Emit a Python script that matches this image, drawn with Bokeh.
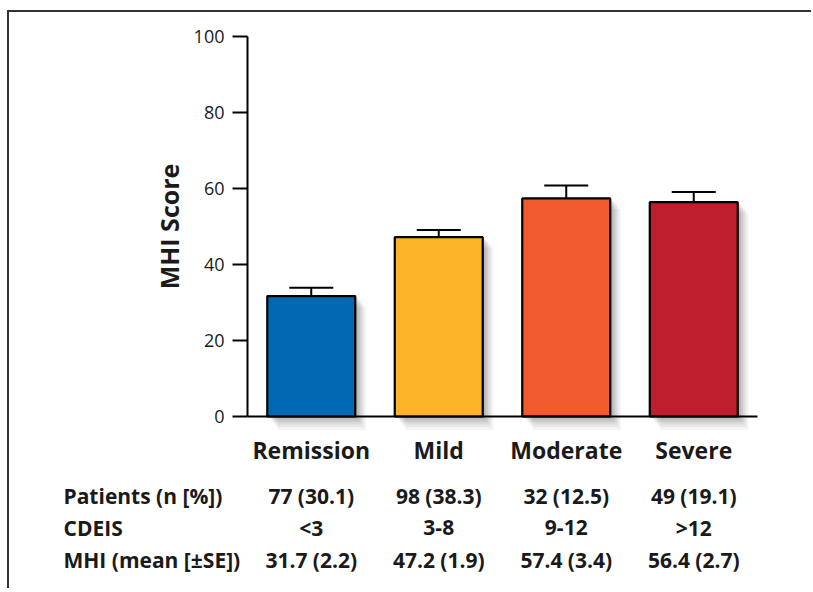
from bokeh.plotting import figure
from bokeh.models import (ColumnDataSource, FixedTicker, Range1d, Whisker, TeeHead)
from bokeh.transform import dodge
from bokeh.core.properties import value
from bokeh.embed import file_html
from bokeh.resources import INLINE

# ---- data ----
categories = ["Remission", "Mild", "Moderate", "Severe"]
mhi_mean = [31.7, 47.2, 57.4, 56.4]
mhi_se = [2.2, 1.9, 3.4, 2.7]
patients = ["77 (30.1)", "98 (38.3)", "32 (12.5)", "49 (19.1)"]
cdeis = ["<3", "3-8", "9-12", ">12"]
mhi_table = ["31.7 (2.2)", "47.2 (1.9)", "57.4 (3.4)", "56.4 (2.7)"]
row_headers = ["Patients (n [%])", "CDEIS", "MHI (mean [\u00b1SE])"]
y_ticks = [0, 20, 40, 60, 80, 100]
colors = ["#0069B4", "#FBB427", "#F15A2C", "#BE1E2D"]

FONT = "Open Sans"
TXT = "#1a1a1a"

n = len(categories)
xpos = [i + 0.5 for i in range(n)]          # category centres on the x scale

src = ColumnDataSource(dict(
    x=xpos,
    mean=mhi_mean,
    upper=[m + s for m, s in zip(mhi_mean, mhi_se)],
    color=colors,
))

# ---- layout (pixels) ----
W, H = 804, 578
FL, FR = 238, 56          # chart area offsets from canvas left/right
FT, FB = 24, 174          # chart area offsets from canvas top/bottom
px_x = (W - FL - FR) / n  # px per category
px_y = (H - FT - FB) / 100.0

p = figure(width=W, height=H, output_backend="svg", toolbar_location=None,
           x_range=Range1d(-FL / px_x, (W - FL) / px_x),
           y_range=Range1d(-FB / px_y, 100 + FT / px_y),
           min_border_left=0, min_border_right=0, min_border_top=0, min_border_bottom=0)
p.outline_line_color = None
p.xgrid.grid_line_color = None
p.ygrid.grid_line_color = None
p.background_fill_color = "white"
p.border_fill_color = "white"
p.styles = {"border-top": "2px solid #333333", "border-left": "2px solid #333333",
            "margin-left": "7px", "margin-top": "10px"}

# soft drop shadow
for dx, dy, a in [(0.085, -2.8, 0.04), (0.07, -2.2, 0.05), (0.055, -1.6, 0.06),
                  (0.04, -1.1, 0.07), (0.025, -0.6, 0.08), (0.012, -0.3, 0.08)]:
    p.vbar(x=dodge("x", dx), top=dodge("mean", dy), width=0.69, bottom=dy * 1.3,
           source=src, fill_color="black", fill_alpha=a, line_color=None)

# error bars (upper only)
wh = Whisker(base="x", upper="upper", lower="mean", source=src,
             line_color="black", line_width=2,
             upper_head=TeeHead(size=44, line_color="black", line_width=2),
             lower_head=None)
p.add_layout(wh)

p.vbar(x="x", top="mean", width=0.69, bottom=0, source=src,
       fill_color="color", line_color="black", line_width=2.2)

# y axis (drawn at the left edge of the category area)
ya = p.yaxis[0]
ya.fixed_location = 0
ya.bounds = (0, 100)
ya.ticker = FixedTicker(ticks=y_ticks)
ya.minor_tick_line_color = None
ya.major_tick_in = 0
ya.major_tick_out = 15
ya.major_tick_line_width = 2
ya.axis_line_width = 2
ya.axis_line_color = "black"
ya.major_tick_line_color = "black"
ya.major_label_text_font = FONT
ya.major_label_text_font_size = "18px"
ya.major_label_text_color = TXT
ya.major_label_standoff = 8
ya.axis_label = "MHI Score"
ya.axis_label_text_font = FONT
ya.axis_label_text_font_size = "25px"
ya.axis_label_text_font_style = "bold"
ya.axis_label_text_color = TXT
ya.axis_label_standoff = 5

# x axis (drawn at y = 0)
xa = p.xaxis[0]
xa.fixed_location = 0
xa.bounds = (0, n)
xa.ticker = FixedTicker(ticks=xpos)
xa.major_label_overrides = {x: c for x, c in zip(xpos, categories)}
xa.major_tick_in = 0
xa.major_tick_out = 0
xa.minor_tick_line_color = None
xa.axis_line_width = 2
xa.axis_line_color = "black"
xa.major_label_text_font = FONT
xa.major_label_text_font_size = "23px"
xa.major_label_text_font_style = "bold"
xa.major_label_text_color = TXT
xa.major_label_standoff = 17

# ---- table below the chart (its own vertical scale: one unit per row) ----
row_px = 32
first_row_px = 483        # from canvas top to first row centre
p.extra_y_ranges = {"table": Range1d(-first_row_px / row_px + H / row_px,
                                      -first_row_px / row_px)}

rows = [patients, cdeis, mhi_table]
cell = dict(x=[], y=[], text=[])
for r, vals in enumerate(rows):
    for xv, v in zip(xpos, vals):
        cell["x"].append(xv)
        cell["y"].append(r)
        cell["text"].append(v)
p.text(x="x", y="y", text="text", source=ColumnDataSource(cell), y_range_name="table",
       text_align="center", text_baseline="middle", text_font=value(FONT),
       text_font_size="21px", text_font_style="bold", text_color=TXT)

hdr_x = (54 - FL) / px_x
hdr = dict(x=[hdr_x] * len(row_headers), y=list(range(len(row_headers))), text=row_headers)
p.text(x="x", y="y", text="text", source=ColumnDataSource(hdr), y_range_name="table",
       text_align="left", text_baseline="middle", text_font=value(FONT),
       text_font_size="21px", text_font_style="bold", text_color=TXT)

open("out.html", "w").write(file_html(p, INLINE))
